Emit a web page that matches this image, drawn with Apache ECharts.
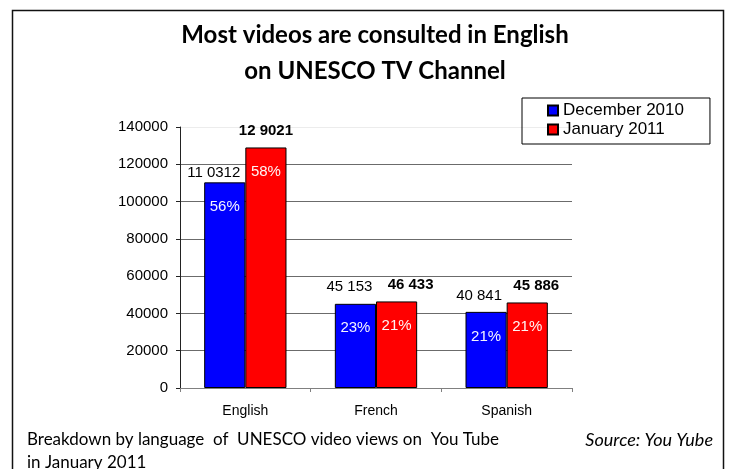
<!DOCTYPE html>
<html>
<head>
<meta charset="utf-8">
<script src="https://cdn.jsdelivr.net/npm/echarts@6/dist/echarts.min.js"></script>
<style>
html,body{margin:0;padding:0;background:#fff;}
#chart{width:732px;height:469px;}
</style>
</head>
<body>
<div id="chart"></div>
<script>
// ---- data ----
const categories = ['English', 'French', 'Spanish'];
const seriesNames = ['December 2010', 'January 2011'];
const decValues = [110312, 45153, 40841];
const janValues = [129021, 46433, 45886];
const decLabels = ['11 0312', '45 153', '40 841'];
const janLabels = ['12 9021', '46 433', '45 886'];
const decPct = ['56%', '23%', '21%'];
const janPct = ['58%', '21%', '21%'];
const yTicks = [0, 20000, 40000, 60000, 80000, 100000, 120000, 140000];
const titleLines = ['Most videos are consulted in English', 'on UNESCO TV Channel'];
const footnoteLines = ['Breakdown by language  of  UNESCO video views on  You Tube', 'in January 2011'];
const sourceText = 'Source: You Yube';

// ---- layout (label nudges, not data) ----
const decShift = [[-11, 7], [-6, 0], [-7, 0]];
const janShift = [[0, 0], [14, 0], [9, 0]];

const SANS = '"Liberation Sans", Arial, sans-serif';
const CAL = 'Lato, "Open Sans", sans-serif';

function mainData(values, shifts) {
  return values.map((v, i) => ({ value: v, label: { offset: shifts[i] } }));
}

const chart = echarts.init(document.getElementById('chart'), null, { renderer: 'canvas' });

const gridLineColors = yTicks.map((t, i) => i === yTicks.length - 1 ? '#ececec' : '#6b6b6b');

const barCommon = {
  type: 'bar',
  barGap: '0%',
  barCategoryGap: '37%',
};

chart.setOption({
  animation: false,
  backgroundColor: '#ffffff',
  title: {
    text: titleLines.join('\n'),
    left: 370,
    top: 12,
    textAlign: 'center',
    textStyle: { fontFamily: CAL, fontWeight: 'bold', fontSize: 24, lineHeight: 36, color: '#000' }
  },
  legend: {
    data: seriesNames,
    orient: 'vertical',
    left: 522,
    top: 98,
    padding: [4, 26, 6, 25],
    itemGap: 2,
    itemWidth: 10,
    itemHeight: 10,
    icon: 'rect',
    borderColor: '#000',
    borderWidth: 1,
    textStyle: { fontFamily: SANS, fontSize: 17, color: '#000' }
  },
  grid: { left: 180, right: 160, top: 127, bottom: 81, containLabel: false },
  xAxis: [
    {
      type: 'category',
      data: categories,
      axisLine: { show: true, lineStyle: { color: '#808080', width: 1 } },
      axisTick: { show: true, length: 4, alignWithLabel: false, lineStyle: { color: '#808080' } },
      axisLabel: { fontFamily: SANS, fontSize: 14, color: '#000', margin: 16 }
    },
    {
      type: 'category',
      data: categories,
      show: false
    }
  ],
  yAxis: {
    type: 'value',
    min: yTicks[0],
    max: yTicks[yTicks.length - 1],
    interval: yTicks[1] - yTicks[0],
    axisLine: { show: true, lineStyle: { color: '#222', width: 1 } },
    axisTick: { show: true, length: 4, lineStyle: { color: '#222' } },
    axisLabel: { fontFamily: SANS, fontSize: 15, color: '#000', margin: 12, formatter: v => String(v) },
    splitLine: { show: true, lineStyle: { color: gridLineColors, width: 1 } }
  },
  series: [
    Object.assign({}, barCommon, {
      name: seriesNames[0],
      xAxisIndex: 0,
      data: mainData(decValues, decShift),
      itemStyle: { color: '#0000ff', borderColor: '#000', borderWidth: 1 },
      label: {
        show: true, position: 'top', distance: 9,
        fontFamily: SANS, fontSize: 15, color: '#000',
        formatter: p => decLabels[p.dataIndex]
      }
    }),
    Object.assign({}, barCommon, {
      name: seriesNames[1],
      xAxisIndex: 0,
      data: mainData(janValues, janShift),
      itemStyle: { color: '#ff0000', borderColor: '#000', borderWidth: 1 },
      label: {
        show: true, position: 'top', distance: 9,
        fontFamily: SANS, fontSize: 15, fontWeight: 'bold', color: '#000',
        formatter: p => janLabels[p.dataIndex]
      }
    }),
    Object.assign({}, barCommon, {
      name: 'pctDec',
      xAxisIndex: 1,
      silent: true,
      z: 3,
      data: decValues,
      itemStyle: { color: 'rgba(0,0,0,0)', borderWidth: 0 },
      label: {
        show: true, position: 'insideTop', distance: 17,
        fontFamily: SANS, fontSize: 15, color: '#f4f4ff',
        formatter: p => decPct[p.dataIndex]
      }
    }),
    Object.assign({}, barCommon, {
      name: 'pctJan',
      xAxisIndex: 1,
      silent: true,
      z: 3,
      data: janValues,
      itemStyle: { color: 'rgba(0,0,0,0)', borderWidth: 0 },
      label: {
        show: true, position: 'insideTop', distance: 17,
        fontFamily: SANS, fontSize: 15, color: '#fff4f4',
        formatter: p => janPct[p.dataIndex]
      }
    })
  ],
  graphic: [
    {
      type: 'rect',
      silent: true,
      z: 100,
      shape: { x: 12.5, y: 10.5, width: 711, height: 480 },
      style: { fill: 'none', stroke: '#111', lineWidth: 1.5 }
    },
    {
      type: 'text',
      z: 100,
      x: 27,
      y: 440,
      style: { text: footnoteLines[0], font: '17px ' + CAL, fill: '#000', textVerticalAlign: 'middle' }
    },
    {
      type: 'text',
      z: 100,
      x: 27,
      y: 463,
      style: { text: footnoteLines[1], font: '17px ' + CAL, fill: '#000', textVerticalAlign: 'middle' }
    },
    {
      type: 'text',
      z: 100,
      x: 713,
      y: 440,
      style: { text: sourceText, font: 'italic 18px ' + CAL, fill: '#000', textAlign: 'right', textVerticalAlign: 'middle' }
    }
  ]
});
</script>
</body>
</html>
